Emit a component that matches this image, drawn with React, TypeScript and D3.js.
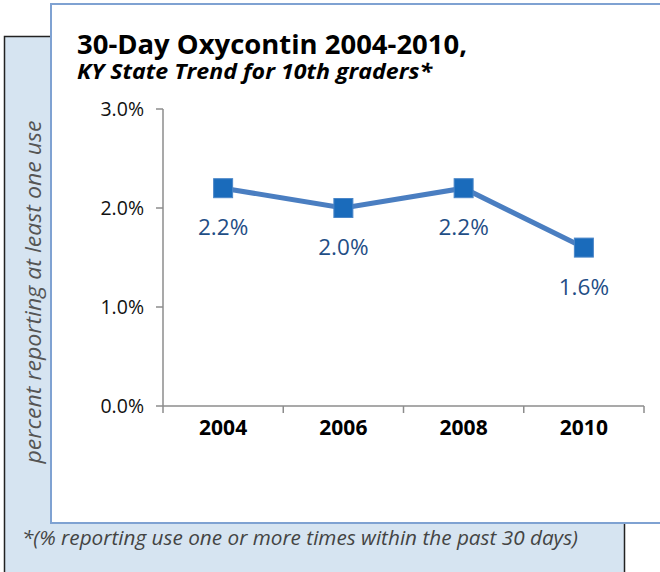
import React from "react";
import * as d3 from "d3";

const years = ["2004", "2006", "2008", "2010"];
const values = [2.2, 2.0, 2.2, 1.6];
const yTicks = [0, 1, 2, 3];
const title = "30-Day Oxycontin 2004-2010,";
const subtitle = "KY State Trend for 10th graders*";
const yTitle = "percent reporting at least one use";
const footnote = "*(% reporting use one or more times within the past 30 days)";

const W = 660;
const H = 572;
const FONT = "'Open Sans', 'Noto Sans', sans-serif";

export default function App() {
  const x = d3.scaleBand<string>().domain(years).range([163, 644]).padding(0);
  const y = d3.scaleLinear().domain([0, 3]).range([406, 109]);
  const line = d3
    .line<number>()
    .x((_, i) => (x(years[i]) as number) + x.bandwidth() / 2)
    .y((d) => y(d));
  const ms = 19;

  return (
    <svg
      width={W}
      height={H}
      style={{ position: "absolute", left: 0, top: 0 }}
      fontFamily={FONT}
    >
      <rect x={0} y={0} width={W} height={H} fill="#fff" />
      {/* light blue backdrop */}
      <rect x={4.5} y={36.5} width={620} height={H} fill="#d6e4f1" stroke="#222" strokeWidth={1.5} />
      {/* white chart panel */}
      <rect x={51} y={4} width={W} height={519} fill="#fff" stroke="#7fa2d2" strokeWidth={2} />

      <text x={77} y={54} fontSize={27} fontWeight={700} fill="#000" textLength={390} lengthAdjust="spacingAndGlyphs">
        {title}
      </text>
      <text x={77} y={79} fontSize={22} fontWeight={700} fontStyle="italic" fill="#000" textLength={355} lengthAdjust="spacingAndGlyphs">
        {subtitle}
      </text>

      {/* y axis */}
      <line x1={163} x2={163} y1={y(3)} y2={y(0)} stroke="#8c8c8c" strokeWidth={1.5} />
      {yTicks.map((t) => (
        <g key={t}>
          <line x1={156} x2={163} y1={y(t)} y2={y(t)} stroke="#8c8c8c" strokeWidth={1.5} />
          <text x={144} y={y(t)} dy="0.35em" textAnchor="end" fontSize={19.5} fill="#111">
            {t.toFixed(1) + "%"}
          </text>
        </g>
      ))}

      {/* x axis */}
      <line x1={163} x2={644} y1={y(0)} y2={y(0)} stroke="#8c8c8c" strokeWidth={1.5} />
      {[...years.map((yr) => x(yr) as number), 644].map((p, i) => (
        <line key={i} x1={p} x2={p} y1={y(0)} y2={y(0) + 7} stroke="#8c8c8c" strokeWidth={1.5} />
      ))}
      {years.map((yr) => (
        <text
          key={yr}
          x={(x(yr) as number) + x.bandwidth() / 2}
          y={435}
          textAnchor="middle"
          fontSize={21}
          fontWeight={700}
          fill="#000"
        >
          {yr}
        </text>
      ))}

      {/* series */}
      <path d={line(values) || ""} fill="none" stroke="#4a7ec1" strokeWidth={5} />
      {values.map((v, i) => {
        const cx = (x(years[i]) as number) + x.bandwidth() / 2;
        const cy = y(v);
        return (
          <g key={i}>
            <rect
              x={cx - ms / 2}
              y={cy - ms / 2}
              width={ms}
              height={ms}
              fill="#1a6bbb"
              stroke="#4a86c8"
              strokeWidth={1}
            />
            <text x={cx} y={cy + 47} textAnchor="middle" fontSize={22.5} fill="#1f4e86">
              {v.toFixed(1) + "%"}
            </text>
          </g>
        );
      })}

      {/* y title */}
      <text
        transform="translate(41,292) rotate(-90)"
        textAnchor="middle"
        fontSize={22}
        fontStyle="italic"
        fill="#555"
        textLength={343}
        lengthAdjust="spacingAndGlyphs"
      >
        {yTitle}
      </text>

      <text x={22} y={545} fontSize={20.5} fontStyle="italic" fill="#444" textLength={556} lengthAdjust="spacingAndGlyphs">
        {footnote}
      </text>
    </svg>
  );
}
